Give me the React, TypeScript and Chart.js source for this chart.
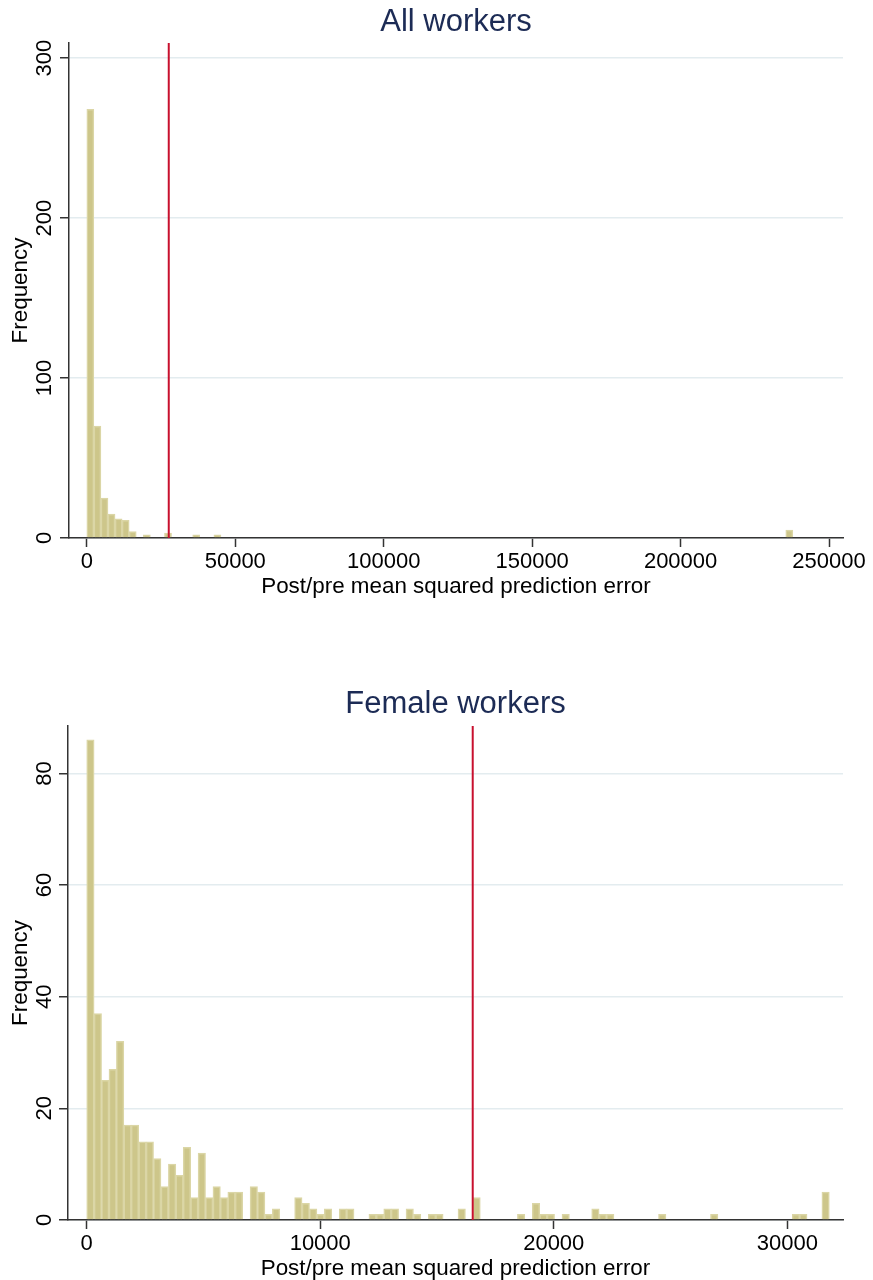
import React, { useEffect, useRef } from 'react';
import { Chart, registerables } from 'chart.js';

Chart.register(...registerables);

// ---------- data ----------
const xAxisTitle = 'Post/pre mean squared prediction error';
const yAxisTitle = 'Frequency';

// All workers
const topTitle = 'All workers';
const topBinWidth = 2378;
const topBins = [0, 1, 2, 3, 4, 5, 6, 7, 8, 9, 10, 11, 15, 18, 99];
const topCounts = [268, 70, 25, 15, 12, 11, 4, 0, 2, 0, 0, 3, 2, 2, 5];
const topXTicks = [0, 50000, 100000, 150000, 200000, 250000];
const topYTicks = [0, 100, 200, 300];
const topMarker = 27600;

// Female workers
const bottomTitle = 'Female workers';
const bottomBinWidth = 318;
const bottomBins = [
  0, 1, 2, 3, 4, 5, 6, 7, 8, 9, 10, 11, 12, 13, 14, 15, 16, 17, 18, 19, 20, 22, 23, 24, 25,
  28, 29, 30, 31, 32, 34, 35, 38, 39, 40, 41, 43, 44, 46, 47, 50, 52,
  58, 60, 61, 62, 64, 68, 69, 70, 77, 84, 95, 96, 99,
];
const bottomCounts = [
  86, 37, 25, 27, 32, 17, 17, 14, 14, 11, 6, 10, 8, 13, 4, 12, 4, 6, 4, 5, 5, 6, 5, 1, 2,
  4, 3, 2, 1, 2, 2, 2, 1, 1, 2, 2, 2, 1, 1, 1, 2, 4,
  1, 3, 1, 1, 1, 2, 1, 1, 1, 1, 1, 1, 5,
];
const bottomXTicks = [0, 10000, 20000, 30000];
const bottomYTicks = [0, 20, 40, 60, 80];
const bottomMarker = 16530;

// ---------- styles ----------
const FONT = "'Liberation Sans', Arial, Helvetica, sans-serif";
const TITLE_COLOR = '#1c2b55';
const BAR_FILL = '#cdc68a';
const BAR_EDGE = '#dbd6a6';
const GRID_COLOR = '#e3ecef';
const AXIS_COLOR = '#333333';
const MARK_COLOR = '#c8102e';

const markerPlugin = {
  id: 'marker',
  afterDatasetsDraw(chart: any, _args: any, opts: any) {
    const { ctx, chartArea, scales } = chart;
    const x = scales.x.getPixelForValue(opts.value);
    ctx.save();
    ctx.strokeStyle = opts.color;
    ctx.lineWidth = 2;
    ctx.beginPath();
    ctx.moveTo(x, chartArea.top);
    ctx.lineTo(x, chartArea.bottom);
    ctx.stroke();
    ctx.restore();
  },
};

interface Spec {
  title: string;
  bins: number[];
  counts: number[];
  binWidth: number;
  xMin: number;
  xMax: number;
  yMax: number;
  xTicks: number[];
  yTicks: number[];
  marker: number;
  yAxisWidth: number;
  yTickPad: number;
  titlePadTop: number;
  titlePadBottom: number;
  bottomPad: number;
}

function makeConfig(p: Spec): any {
  const data = p.bins.map((b, i) => ({ x: (b + 0.5) * p.binWidth, y: p.counts[i] }));
  return {
    type: 'bar',
    data: {
      datasets: [
        {
          data,
          backgroundColor: BAR_FILL,
          borderColor: BAR_EDGE,
          borderWidth: 1.5,
          barPercentage: 1,
          categoryPercentage: 1,
        },
      ],
    },
    options: {
      animation: false,
      responsive: false,
      maintainAspectRatio: false,
      layout: { padding: { left: 0, right: 30, top: 0, bottom: p.bottomPad } },
      plugins: {
        legend: { display: false },
        tooltip: { enabled: false },
        title: {
          display: true,
          text: p.title,
          fullSize: false,
          color: TITLE_COLOR,
          font: { family: FONT, size: 31, weight: 'normal' },
          padding: { top: p.titlePadTop, bottom: p.titlePadBottom },
        },
        marker: { value: p.marker, color: MARK_COLOR },
      },
      scales: {
        x: {
          type: 'linear',
          min: p.xMin,
          max: p.xMax,
          offset: false,
          afterBuildTicks: (s: any) => {
            s.ticks = p.xTicks.map((v) => ({ value: v }));
          },
          afterFit: (s: any) => {
            s.height = 60;
          },
          grid: {
            offset: false,
            drawOnChartArea: false,
            drawTicks: true,
            tickLength: 9,
            tickColor: AXIS_COLOR,
            tickWidth: 1.5,
          },
          border: { display: true, color: AXIS_COLOR, width: 1.5 },
          ticks: {
            color: '#000',
            font: { family: FONT, size: 22 },
            padding: 2,
            maxRotation: 0,
            minRotation: 0,
            autoSkip: false,
            callback: (v: any) => String(v),
          },
          title: {
            display: true,
            text: xAxisTitle,
            color: '#000',
            font: { family: FONT, size: 22.4 },
            padding: { top: 0, bottom: -2.4 },
          },
        },
        y: {
          type: 'linear',
          min: 0,
          max: p.yMax,
          afterBuildTicks: (s: any) => {
            s.ticks = p.yTicks.map((v) => ({ value: v }));
          },
          afterFit: (s: any) => {
            s.width = p.yAxisWidth;
          },
          grid: {
            color: GRID_COLOR,
            lineWidth: 1.5,
            drawTicks: true,
            tickLength: 9,
            tickColor: AXIS_COLOR,
            tickWidth: 1.5,
          },
          border: { display: true, color: AXIS_COLOR, width: 1.5 },
          ticks: {
            color: '#000',
            font: { family: FONT, size: 22 },
            minRotation: 90,
            maxRotation: 90,
            crossAlign: 'center',
            padding: p.yTickPad,
            autoSkip: false,
            callback: (v: any) => String(v),
          },
          title: {
            display: true,
            text: yAxisTitle,
            color: '#000',
            font: { family: FONT, size: 22.4 },
            padding: { top: 7, bottom: 0 },
          },
        },
      },
    },
    plugins: [markerPlugin],
  };
}

function HistChart({ spec, top }: { spec: Spec; top: number }) {
  const ref = useRef<HTMLCanvasElement | null>(null);
  useEffect(() => {
    if (!ref.current) return;
    const chart = new Chart(ref.current, makeConfig(spec));
    return () => chart.destroy();
  }, [spec]);
  return (
    <div style={{ position: 'absolute', left: 0, top, width: 873, height: 640 }}>
      <canvas ref={ref} width={873} height={640} style={{ display: 'block', width: 873, height: 640 }} />
    </div>
  );
}

const topSpec: Spec = {
  title: topTitle,
  bins: topBins,
  counts: topCounts,
  binWidth: topBinWidth,
  xMin: -6000,
  xMax: 254700,
  yMax: 309.4,
  xTicks: topXTicks,
  yTicks: topYTicks,
  marker: topMarker,
  yAxisWidth: 69,
  yTickPad: -3.3,
  titlePadTop: 4.1,
  titlePadBottom: 1.7,
  bottomPad: 42,
};

const bottomSpec: Spec = {
  title: bottomTitle,
  bins: bottomBins,
  counts: bottomCounts,
  binWidth: bottomBinWidth,
  xMin: -801,
  xMax: 32386,
  yMax: 88.5,
  xTicks: bottomXTicks,
  yTicks: bottomYTicks,
  marker: bottomMarker,
  yAxisWidth: 68,
  yTickPad: 1.8,
  titlePadTop: 46.1,
  titlePadBottom: 2.7,
  bottomPad: 0,
};

export default function App() {
  return (
    <div style={{ position: 'absolute', left: 0, top: 0, width: 873, height: 1280, background: '#fff', overflow: 'hidden' }}>
      <HistChart spec={topSpec} top={0} />
      <HistChart spec={bottomSpec} top={640} />
    </div>
  );
}
